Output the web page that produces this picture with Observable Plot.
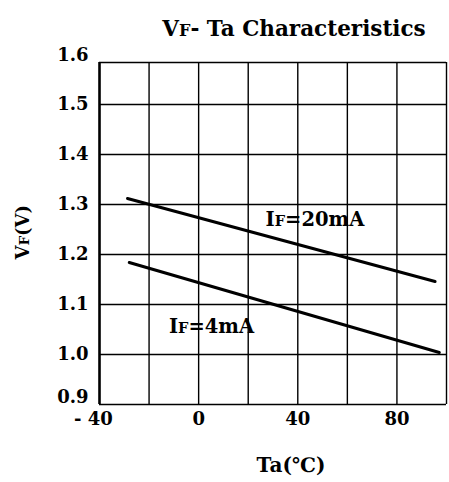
<!DOCTYPE html>
<html><head><meta charset="utf-8">
<script src="https://cdn.jsdelivr.net/npm/d3@7"></script>
<script src="https://cdn.jsdelivr.net/npm/@observablehq/plot@0.6"></script>
<style>body{margin:0;background:#fff}svg{display:block}</style>
</head><body><div id="chart"></div>
<script>
const title = "VF- Ta Characteristics";
const xLabel = "Ta(℃)";
const yLabel = "VF(V)";
const xGrid = [-40, -20, 0, 20, 40, 60, 80, 100];
const xTickLabels = [-40, 0, 40, 80];
const yTicks = [0.9, 1.0, 1.1, 1.2, 1.3, 1.4, 1.5, 1.6];
const yInnerLabels = [1.0, 1.1, 1.2, 1.3, 1.4, 1.5];
const yEndLabels = [0.9, 1.6];
const ta20 = [-28.7, 95.4];
const vf20 = [1.312, 1.146];
const ta4 = [-28, 97.1];
const vf4 = [1.184, 1.004];
const seriesLabels = ["IF=20mA", "IF=4mA"];
const labelTa = [27, -12];
const labelVf = [1.27, 1.056];

const line20 = ta20.map((t, i) => ({ta: t, vf: vf20[i]}));
const line4 = ta4.map((t, i) => ({ta: t, vf: vf4[i]}));
const labels = seriesLabels.map((s, i) => ({s, ta: labelTa[i], vf: labelVf[i]}));

// the top band (1.5–1.6) of the original chart is drawn compressed
const squeeze = v => v > 1.5 ? 1.5 + (v - 1.5) * 0.84 : v;

const font = "'DejaVu Serif', serif";
const yAxisOpts = {tickSize: 0, tickPadding: 11, tickFormat: d => d.toFixed(1), fontSize: 18, fontWeight: "bold", label: null};
const plot = Plot.plot({
  width: 449, height: 482,
  marginLeft: 99, marginRight: 3, marginTop: 62, marginBottom: 78,
  style: {fontFamily: font, fontWeight: "bold", fontSize: "18px", color: "#000", background: "#fff"},
  x: {domain: [-40, 100], axis: null},
  y: {transform: squeeze, domain: [0.9, squeeze(1.6)], axis: null},
  marks: [
    Plot.ruleY(yTicks, {stroke: "#000", strokeWidth: 1.4}),
    Plot.ruleX(xGrid, {y1: 0.9, y2: 1.6, stroke: "#000", strokeWidth: 1.4}),
    Plot.ruleX([-40], {y1: 0.9, y2: 1.6, stroke: "#000", strokeWidth: 2.5}),
    Plot.line(line20, {x: "ta", y: "vf", stroke: "#000", strokeWidth: 3}),
    Plot.line(line4, {x: "ta", y: "vf", stroke: "#000", strokeWidth: 3}),
    Plot.text(labels, {x: "ta", y: "vf", text: "s", textAnchor: "start", fontSize: 19.5, fontWeight: "bold", fill: "#000"}),
    Plot.axisY(yInnerLabels, yAxisOpts),
    Plot.axisY(yEndLabels, {...yAxisOpts, dy: -7}),
    Plot.axisX(xTickLabels, {tickSize: 0, tickPadding: 8, tickFormat: d => d < 0 ? "- " + (-d) : String(d), fontSize: 18, fontWeight: "bold", label: null}),
    Plot.text([title], {frameAnchor: "top", dy: -42, dx: 21, fontSize: 21.5, fontWeight: "bold", fill: "#000", letterSpacing: "0.7px"}),
    Plot.text([xLabel], {frameAnchor: "bottom", dy: 67, dx: 18, fontSize: 20, fontWeight: "bold", fill: "#000"}),
    Plot.text([yLabel], {frameAnchor: "left", dx: -76, dy: 26, rotate: -90, fontSize: 18, fontWeight: "bold", fill: "#000"})
  ]
});
document.getElementById("chart").appendChild(plot);

d3.select(plot).selectAll("text").each(function() {
  const el = d3.select(this);
  const t = this.textContent;
  // the minus sign of "-40" hangs to the left of a centred "40"
  if (t === "- 40") { el.attr("dx", -6); return; }
  // render the "F" in IF / VF as a smaller letter
  const m = /^([IV])F(.*)$/.exec(t);
  if (!m) return;
  el.text(null);
  el.append("tspan").text(m[1]);
  el.append("tspan").attr("font-size", "0.75em").text("F");
  el.append("tspan").text(m[2]);
});
</script></body></html>
